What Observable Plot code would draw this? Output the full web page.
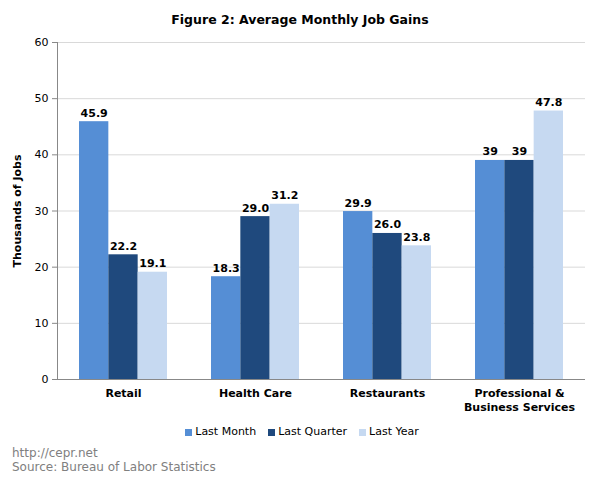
<!DOCTYPE html>
<html>
<head>
<meta charset="utf-8">
<script src="https://cdn.jsdelivr.net/npm/d3@7"></script>
<script src="https://cdn.jsdelivr.net/npm/@observablehq/plot@0.6"></script>
<style>
  html, body { margin: 0; padding: 0; background: #fff; }
  #wrap { position: relative; width: 600px; height: 482px; font-family: "DejaVu Sans", Verdana, sans-serif; }
  #title { box-sizing: border-box; height: 30px; padding-top: 12px; line-height: 16px; text-align: center; font-size: 12.5px; font-weight: bold; color: #000; }
  #legend { position: absolute; top: 425px; left: 0; width: 604px; display: flex; justify-content: center; font-size: 11px; color: #000; line-height: 14px; }
  #legend .item { display: flex; align-items: center; margin: 0 6px; }
  #legend .sw { width: 7px; height: 7px; margin-right: 3px; }
  #footer { position: absolute; left: 12px; top: 446px; font-size: 12px; line-height: 14px; color: #808080; }
  #chart svg { display: block; }
</style>
</head>
<body>
<div id="wrap">
  <div id="title"></div>
  <div id="chart"></div>
  <div id="legend"></div>
  <div id="footer"></div>
</div>
<script>
const titleText = "Figure 2: Average Monthly Job Gains";
const yLabel = "Thousands of Jobs";
const categories = ["Retail", "Health Care", "Restaurants", "Professional & Business Services"];
const categoryLabels = ["Retail", "Health Care", "Restaurants", "Professional &\nBusiness Services"];
const series = ["Last Month", "Last Quarter", "Last Year"];
const lastMonth = [45.9, 18.3, 29.9, 39];
const lastQuarter = [22.2, 29.0, 26.0, 39];
const lastYear = [19.1, 31.2, 23.8, 47.8];
const lastMonthLabels = ["45.9", "18.3", "29.9", "39"];
const lastQuarterLabels = ["22.2", "29.0", "26.0", "39"];
const lastYearLabels = ["19.1", "31.2", "23.8", "47.8"];
const yTicks = [0, 10, 20, 30, 40, 50, 60];
const footerLines = ["http://cepr.net", "Source: Bureau of Labor Statistics"];
const colors = ["#558ed5", "#1f497d", "#c6d9f1"];

const values = [lastMonth, lastQuarter, lastYear];
const labels = [lastMonthLabels, lastQuarterLabels, lastYearLabels];
const rows = [];
categories.forEach((c, ci) => {
  series.forEach((s, si) => {
    rows.push({category: c, ci, series: s, si, value: values[si][ci], label: labels[si][ci]});
  });
});
const groupFrac = 2 / 3;          // share of each category band used by bars
const barFrac = groupFrac / series.length;
const x1 = d => d.ci + (1 - groupFrac) / 2 + d.si * barFrac;
const x2 = d => x1(d) + barFrac;
const xc = d => x1(d) + barFrac / 2;

document.getElementById("title").textContent = titleText;

const font = "DejaVu Sans, Verdana, sans-serif";
const chart = Plot.plot({
  width: 600,
  height: 400,
  marginTop: 12,
  marginBottom: 51,
  marginLeft: 57,
  marginRight: 15,
  style: {fontFamily: font, fontSize: "11px", color: "#000", background: "#fff"},
  x: {type: "linear", domain: [0, categories.length], axis: null},
  y: {domain: [0, 60], axis: null},
  color: {domain: series, range: colors},
  marks: [
    Plot.ruleY(yTicks.filter(t => t > 0), {stroke: "#d9d9d9", strokeWidth: 1}),
    Plot.rectY(rows, {x1, x2, y: "value", fill: "series"}),
    Plot.text(rows, {x: xc, y: "value", text: "label", lineAnchor: "bottom", dy: -5, fontWeight: "bold", fontSize: 11, fill: "#000"}),
    Plot.ruleY([0], {stroke: "#888", strokeWidth: 1}),
    Plot.ruleX([0], {stroke: "#888", strokeWidth: 1}),
    Plot.axisY({ticks: yTicks, tickSize: 5, tickPadding: 4, stroke: "#888", label: null, fontSize: 11}),
    Plot.text(categoryLabels, {x: (d, i) => i + 0.5, y: 0, text: d => d, lineAnchor: "top", dy: 8, lineHeight: 1.27, fontWeight: "bold", fontSize: 11, fill: "#000"}),
    Plot.text([yLabel], {frameAnchor: "left", text: d => d, textAnchor: "middle", rotate: -90, dx: -40, fontWeight: "bold", fontSize: 11, fill: "#000"})
  ]
});
document.getElementById("chart").appendChild(chart);

const legend = document.getElementById("legend");
series.forEach((s, i) => {
  const item = document.createElement("div");
  item.className = "item";
  const sw = document.createElement("span");
  sw.className = "sw";
  sw.style.background = colors[i];
  const t = document.createElement("span");
  t.textContent = s;
  item.appendChild(sw);
  item.appendChild(t);
  legend.appendChild(item);
});
const footer = document.getElementById("footer");
footerLines.forEach(l => {
  const d = document.createElement("div");
  d.textContent = l;
  footer.appendChild(d);
});
</script>
</body>
</html>
